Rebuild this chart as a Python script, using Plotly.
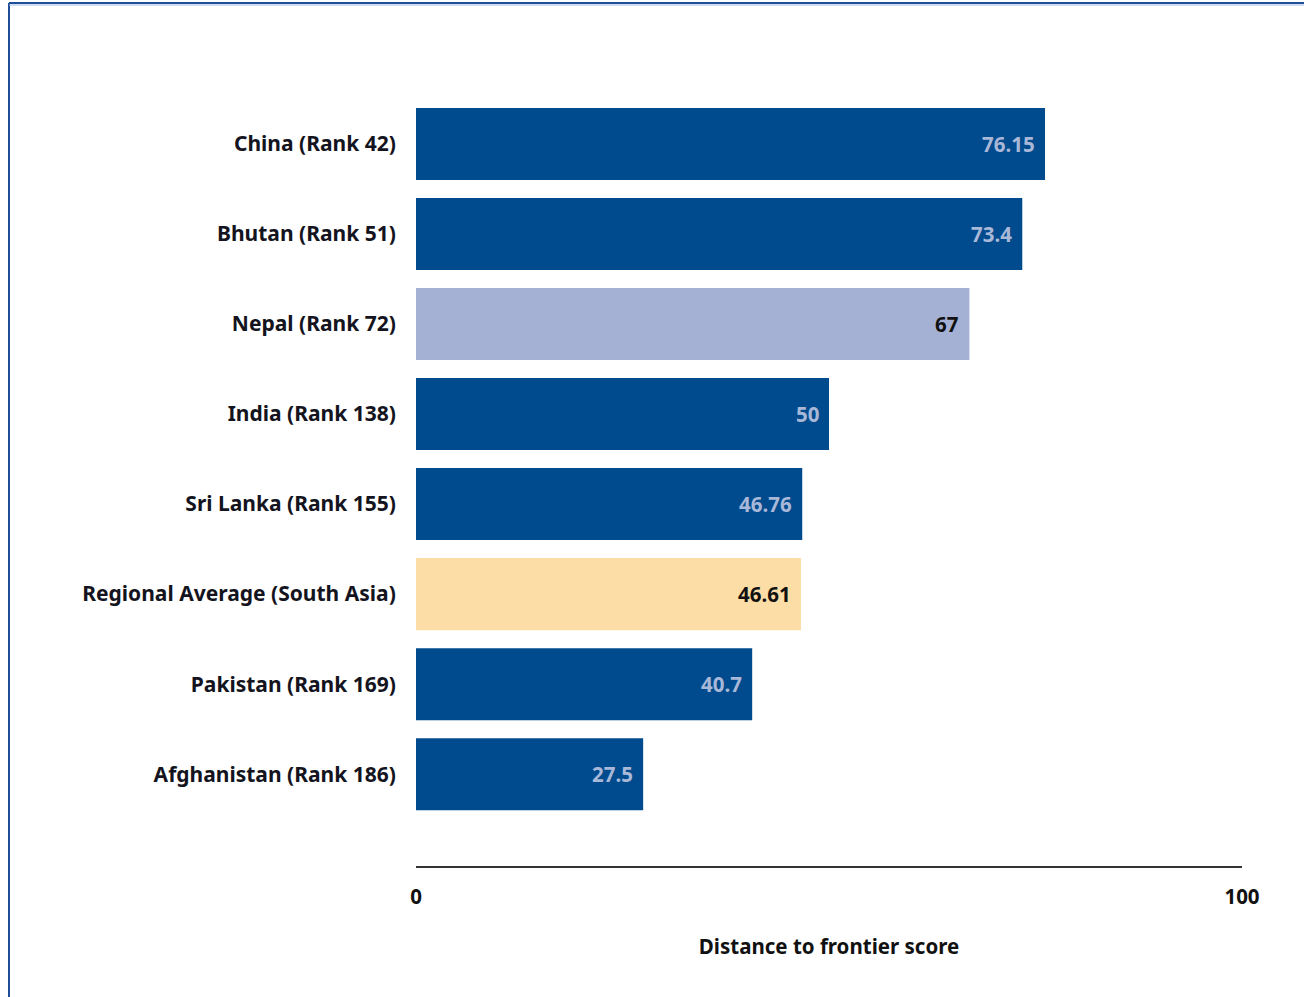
import plotly.graph_objects as go

categories = ["China (Rank 42)", "Bhutan (Rank 51)", "Nepal (Rank 72)", "India (Rank 138)",
              "Sri Lanka (Rank 155)", "Regional Average (South Asia)", "Pakistan (Rank 169)",
              "Afghanistan (Rank 186)"]
scores = [76.15, 73.4, 67, 50, 46.76, 46.61, 40.7, 27.5]
labels = ["76.15", "73.4", "67", "50", "46.76", "46.61", "40.7", "27.5"]
bar_colors = ["#004B8D", "#004B8D", "#A5B1D4", "#004B8D", "#004B8D", "#FDDDA6", "#004B8D", "#004B8D"]
label_colors = ["#A9B8D8", "#A9B8D8", "#111111", "#A9B8D8", "#A9B8D8", "#111111", "#A9B8D8", "#A9B8D8"]
x_ticks = [0, 100]
x_title = "Distance to frontier score"

FONT = "Noto Sans"
FS = 20.5

fig = go.Figure()
fig.add_trace(go.Bar(
    x=scores, y=categories, orientation="h",
    marker=dict(color=bar_colors, line=dict(width=0)),
    hoverinfo="skip",
))

for cat, val, lab, col in zip(categories, scores, labels, label_colors):
    fig.add_annotation(x=val, y=cat, text="<b>%s</b>" % lab, showarrow=False,
                       xanchor="right", xshift=-8, yanchor="middle",
                       font=dict(family=FONT, size=FS, color=col))

fig.update_layout(
    width=1304, height=997,
    margin=dict(l=416, r=62, t=99, b=131),
    paper_bgcolor="white", plot_bgcolor="white",
    bargap=0.2,
    showlegend=False,
    font=dict(family=FONT, size=FS, color="#111111"),
    xaxis=dict(range=[0, 100], tickvals=x_ticks, ticktext=["<b>%d</b>" % t for t in x_ticks],
               showgrid=False, zeroline=False, showline=True, linecolor="#333333", linewidth=2,
               ticks="outside", ticklen=11, tickcolor="rgba(0,0,0,0)",
               tickfont=dict(family=FONT, size=FS, color="#111111"),
               title=dict(text="<b>%s</b>" % x_title, standoff=31,
                          font=dict(family=FONT, size=FS, color="#111111"))),
    yaxis=dict(type="category", categoryorder="array", categoryarray=categories,
               range=[8.02, -0.5], showgrid=False, zeroline=False, showline=False,
               ticks="outside", ticklen=15, tickcolor="rgba(0,0,0,0)",
               tickfont=dict(family=FONT, size=21, color="#141420"),
               tickprefix="<b>", ticksuffix="</b>"),
)

# frame lines of the original page (left and top)
fx = (9 - 416) / 826
fy = 1 + (99 - 3) / 767
fig.add_shape(type="line", xref="paper", yref="paper", x0=fx, x1=fx,
              y0=fy, y1=1 - (997 - 99) / 767,
              line=dict(color="#1F4E96", width=2))
fig.add_shape(type="line", xref="paper", yref="paper", x0=fx, x1=(1304 - 416) / 826,
              y0=fy, y1=fy, line=dict(color="#1F4E96", width=2))
fig.add_shape(type="line", xref="paper", yref="paper", x0=fx, x1=(1304 - 416) / 826,
              y0=fy - 2 / 767, y1=fy - 2 / 767, line=dict(color="#9DBBE3", width=1))

fig.write_html("out.html", config={"displayModeBar": False},
               post_script="document.body.style.margin='0';")
